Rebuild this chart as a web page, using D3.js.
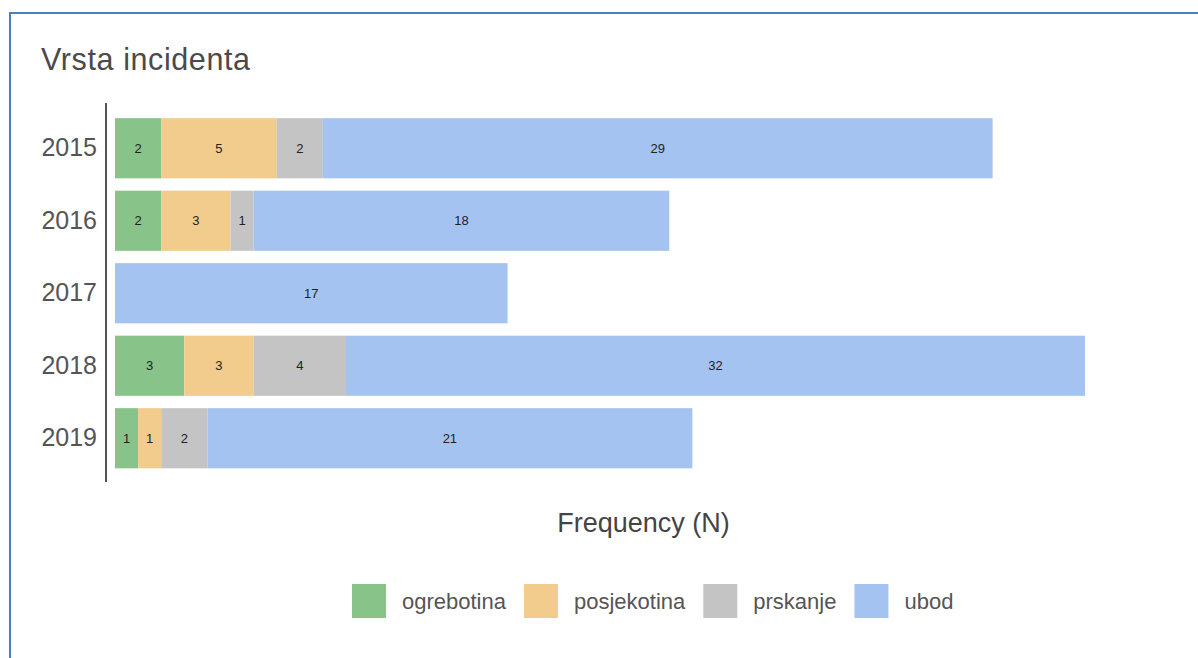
<!DOCTYPE html>
<html><head><meta charset="utf-8">
<script src="https://cdn.jsdelivr.net/npm/d3@7"></script>
<style>body{margin:0;background:#fff;}svg{display:block;font-family:Arial,"Liberation Sans",sans-serif;}</style>
</head><body>
<script>
const years = ["2015","2016","2017","2018","2019"];
const seriesNames = ["ogrebotina","posjekotina","prskanje","ubod"];
const ogrebotina = [2,2,0,3,1];
const posjekotina = [5,3,0,3,1];
const prskanje = [2,1,0,4,2];
const ubod = [29,18,17,32,21];
const colors = ["#88c38a","#f1cc8d","#c4c4c4","#a5c3f0"];
const title = "Vrsta incidenta";
const xTitle = "Frequency (N)";

const W = 1198, H = 658;
const svg = d3.select("body").append("svg").attr("width", W).attr("height", H);

// frame
svg.append("rect").attr("x",10).attr("y",13).attr("width",W+20).attr("height",H+20)
  .attr("fill","none").attr("stroke","#4a7fc1").attr("stroke-width",2);

svg.append("text").attr("x",41).attr("y",70).attr("font-size",30.5).attr("letter-spacing",0.6).attr("fill","#4a4a4a").text(title);

const table = years.map((y,i)=>({year:y, ogrebotina:ogrebotina[i], posjekotina:posjekotina[i], prskanje:prskanje[i], ubod:ubod[i]}));
const stack = d3.stack().keys(seriesNames)(table);

const x = d3.scaleLinear().domain([0,42]).range([115,1085]);
const y = d3.scaleBand().domain(years).range([112,474.5]).paddingInner(0.17).paddingOuter(0.085);
const color = d3.scaleOrdinal().domain(seriesNames).range(colors);

const groups = svg.append("g").selectAll("g").data(stack).join("g").attr("fill", d=>color(d.key));
groups.selectAll("rect").data(d=>d).join("rect")
  .attr("x", d=>x(d[0])).attr("y", d=>y(d.data.year))
  .attr("width", d=>x(d[1])-x(d[0])).attr("height", y.bandwidth());

const labels = svg.append("g");
stack.forEach(s=>{
  s.forEach(d=>{
    const v = d[1]-d[0];
    if (v>0) labels.append("text")
      .attr("x",(x(d[0])+x(d[1]))/2).attr("y", y(d.data.year)+y.bandwidth()/2+4.5)
      .attr("text-anchor","middle").attr("font-size",13).attr("fill","#222").text(v);
  });
});

const yAxis = svg.append("g").attr("transform","translate(106,0)")
  .call(d3.axisLeft(y).tickSize(0).tickPadding(9));
yAxis.select(".domain").remove();
yAxis.selectAll("text").attr("font-size",25).attr("fill","#555").attr("font-family","Arial,'Liberation Sans',sans-serif");
svg.append("line").attr("x1",106).attr("x2",106).attr("y1",103).attr("y2",482).attr("stroke","#555").attr("stroke-width",2);

svg.append("text").attr("x",643.5).attr("y",532).attr("text-anchor","middle").attr("font-size",27).attr("fill","#444").text(xTitle);

// legend
const lg = svg.append("g");
let lx = 352;
seriesNames.forEach((n,i)=>{
  lg.append("rect").attr("x",lx).attr("y",584).attr("width",34).attr("height",34).attr("fill",colors[i]);
  const t = lg.append("text").attr("x",lx+50).attr("y",609).attr("font-size",22).attr("fill","#555").text(n);
  const w = t.node().getComputedTextLength();
  lx = lx + 50 + w + 18;
});
</script>
</body></html>
